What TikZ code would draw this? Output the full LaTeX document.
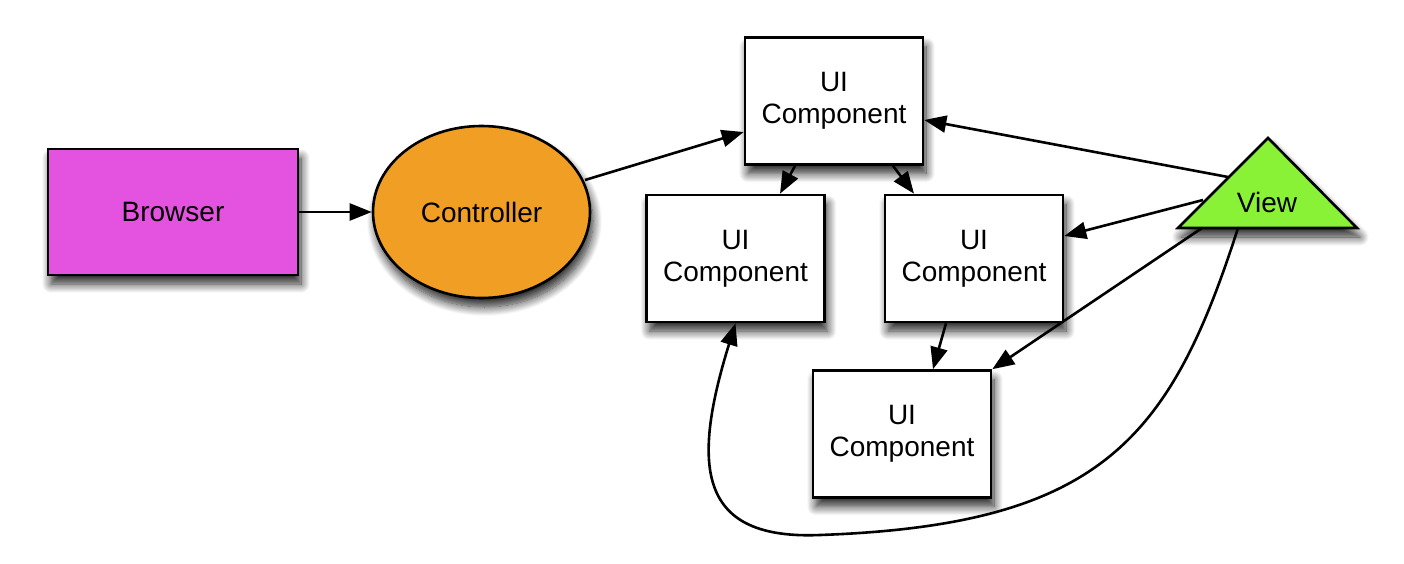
\documentclass[tikz,border=0pt]{standalone}
\usepackage{fontspec}
\setmainfont{Liberation Sans}
\usetikzlibrary{arrows.meta,shapes.geometric,shadows.blur}
\definecolor{brmag}{HTML}{E452E0}
\definecolor{ctorg}{HTML}{F09F24}
\definecolor{vwgrn}{HTML}{8AF236}
\tikzset{
  shad/.style={blur shadow={shadow xshift=3pt, shadow yshift=-9pt, shadow blur steps=12, shadow blur radius=9pt, shadow opacity=85}},
  uibox/.style={draw=black, line width=2.6pt, fill=white, minimum width=178pt, minimum height=127pt, inner sep=0pt, align=center, font=\fontsize{28}{32}\selectfont, shad},
  conn/.style={draw=black, line width=2.6pt, -{Triangle[length=22pt,width=17pt,fill=black,color=black]}},
}
\begin{document}
\begin{tikzpicture}[x=1pt,y=-1pt]
\useasboundingbox (0,0) rectangle (1404,564);
\coordinate (va) at (1268,138);
\coordinate (vl) at (1178,228);
\coordinate (vr) at (1357,228);
\fill[fill=white, shad] (va) -- (vl) -- (vr) -- cycle;
\draw[line width=2.6pt, fill=vwgrn, line join=miter] (va) -- (vl) -- (vr) -- cycle;
\node[font=\fontsize{28}{32}\selectfont] (view) at (1267,202) {View};

\node[draw=black, line width=2.6pt, fill=brmag, minimum width=250pt, minimum height=126pt, inner sep=0pt, font=\fontsize{28}{32}\selectfont, shad] (browser) at (173,212) {Browser};
\node[ellipse, draw=black, line width=2.6pt, fill=ctorg, minimum width=217pt, minimum height=172pt, inner sep=0pt, font=\fontsize{28}{32}\selectfont, shad] (ctrl) at (481.5,212) {Controller};

\node[uibox] (ut) at (834,101) {UI\\Component};
\node[uibox] (ul) at (735.5,258.5) {UI\\Component};
\node[uibox] (ur) at (974,258.5) {UI\\Component};
\node[uibox] (ub) at (902,434) {UI\\Component};

\coordinate (v1) at (1228,177);
\coordinate (v2) at (1203,200);
\coordinate (v3) at (1202,228);
\coordinate (v4) at (1238,228);
\coordinate (c1) at (585,180);

\draw[conn] (browser.east) -- (ctrl.west);
\draw[conn] (c1) -- (ut.west |- 0,132);
\draw[conn] (v1) -- (ut.east |- 0,120);
\draw[conn] (v2) -- (ur.east |- 0,236);
\draw[conn] (v3) -- (ub.north east);
\draw[conn] (ut.south -| 795,0) -- (ul.north -| 780,0);
\draw[conn] (ut.south -| 893,0) -- (ur.north -| 914,0);
\draw[conn] (ur.south -| 946,0) -- (ub.north -| 933,0);
\draw[conn] (v4) .. controls (1170,440) and (1100,525) .. (820,535)
  .. controls (700,540) and (690,470) .. (ul.south);
\end{tikzpicture}
\end{document}
